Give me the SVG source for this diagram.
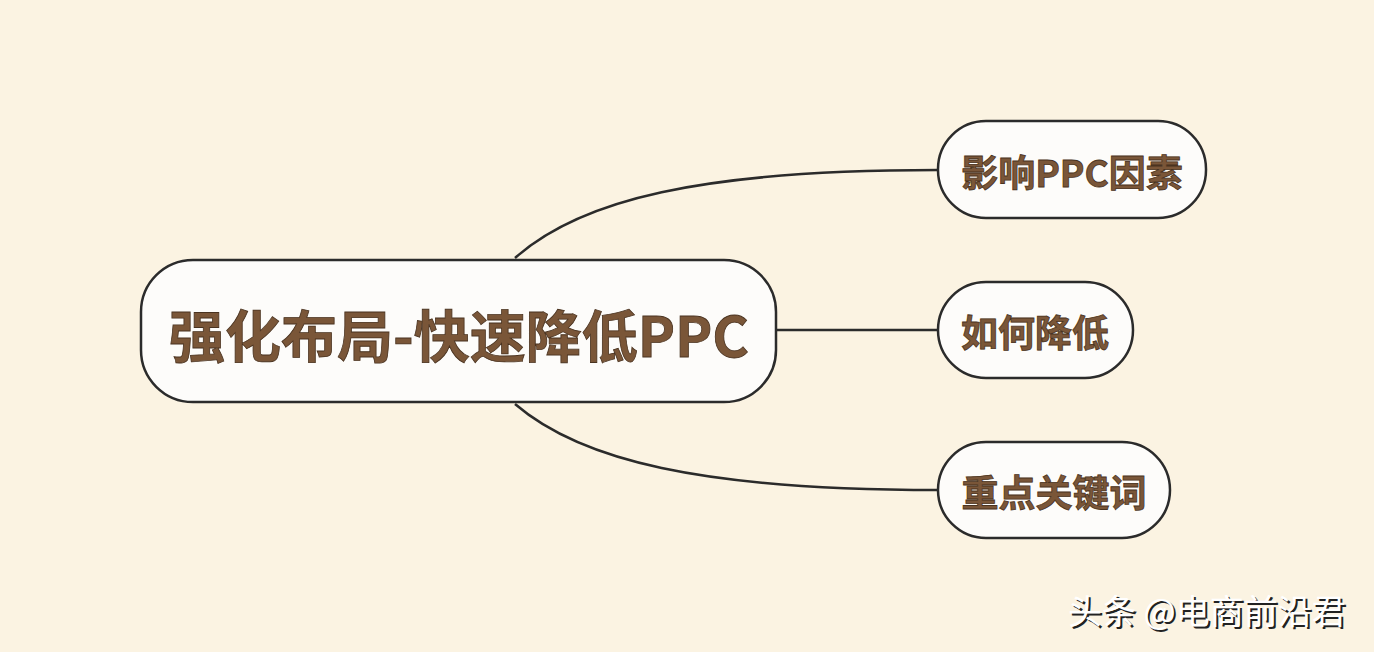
<svg xmlns="http://www.w3.org/2000/svg" width="1374" height="652" viewBox="0 0 1374 652">
<defs>
<style>
.node{fill:#fdfcfa;stroke:#2b2b2b;stroke-width:2.5}
.t{font-family:"Noto Sans CJK SC","Noto Sans",sans-serif;font-weight:bold;fill:#7a5638;stroke:#4a3320;stroke-width:0.8;text-anchor:middle;dominant-baseline:central}
.conn{fill:none;stroke:#2b2b2b;stroke-width:2.5}
.wm{font-family:"Noto Sans CJK SC",sans-serif;font-size:34px}
</style>
</defs>
<rect width="1374" height="652" fill="#fbf3e2"/>
<g id="connectors">
<path class="conn" d="M515,258 C580,200 700,170 938,170"/>
<path class="conn" d="M776,330 L938,330"/>
<path class="conn" d="M515,404 C580,460 700,490 938,490"/>
</g>
<g id="root">
<rect class="node" x="141" y="260" width="635" height="142" rx="52"/>
<text class="t" x="459" y="332" font-size="56">强化布局-快速降低PPC</text>
</g>
<g id="n1">
<rect class="node" x="938" y="121" width="268" height="97" rx="48"/>
<text class="t" x="1072" y="171" font-size="37">影响PPC因素</text>
</g>
<g id="n2">
<rect class="node" x="938" y="282" width="195" height="96" rx="48"/>
<text class="t" x="1035" y="331" font-size="37">如何降低</text>
</g>
<g id="n3">
<rect class="node" x="938" y="442" width="232" height="96" rx="48"/>
<text class="t" x="1054" y="491" font-size="37">重点关键词</text>
</g>
<text class="wm" x="1070" y="626" fill="#222">头条 @电商前沿君</text>
<text class="wm" x="1068" y="624" fill="#ffffff">头条 @电商前沿君</text>
</svg>
